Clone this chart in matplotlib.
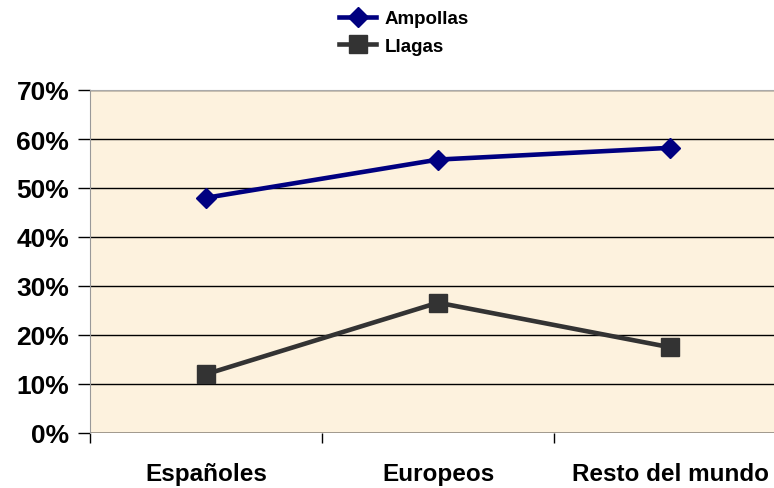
import numpy as np
import matplotlib
matplotlib.use("Agg")
import matplotlib.pyplot as plt
from matplotlib.lines import Line2D

plt.rcParams["font.family"] = ["Liberation Sans", "DejaVu Sans"]

categories = ["Españoles", "Europeos", "Resto del mundo"]
ampollas = [0.48, 0.558, 0.582]
llagas = [0.12, 0.266, 0.175]
yticks = [0, 0.1, 0.2, 0.3, 0.4, 0.5, 0.6, 0.7]

W, H = 774, 489
fig = plt.figure(figsize=(W / 100, H / 100), dpi=100)
fig.patch.set_facecolor("white")
# plot area runs past the right edge of the figure
ax = fig.add_axes([90 / W, (H - 434) / H, 696 / W, 343 / H])
ax.set_facecolor("#fdf2de")

x = np.arange(len(categories))
ax.plot(x, ampollas, color="#000080", lw=3.3, marker="D", ms=10, zorder=3)
ax.plot(x, llagas, color="#333333", lw=3.3, marker="s", ms=13, zorder=3)

ax.set_xlim(-0.5, len(categories) - 0.5)
ax.set_ylim(0, 0.7)
ax.set_yticks(yticks)
ax.set_yticklabels([f"{int(round(v * 100))}%" for v in yticks],
                   fontsize=19, fontweight="bold")
ax.yaxis.grid(True, color="black", lw=1)
ax.set_axisbelow(True)

ax.set_xticks(x)
ax.set_xticklabels(categories, fontsize=17.5, fontweight="bold")
ax.set_xticks(np.arange(len(categories)) - 0.5, minor=True)
ax.tick_params(axis="x", which="major", length=0, pad=21)
ax.tick_params(axis="x", which="minor", length=7, width=1, direction="out")
ax.tick_params(axis="y", length=9, width=1, direction="out", pad=6)

for side in ["right", "bottom"]:
    ax.spines[side].set_visible(False)
ax.spines["left"].set_color("#999999")
ax.spines["top"].set_color("#aaaaaa")
ax.axhline(0, color="black", lw=1, zorder=2)

handles = [
    Line2D([], [], color="#000080", lw=3.3, marker="D", ms=10, label="Ampollas"),
    Line2D([], [], color="#333333", lw=3.3, marker="s", ms=13, label="Llagas"),
]
fig.legend(handles=handles, loc="upper left", bbox_to_anchor=(322 / W, 1.012),
           frameon=False, prop={"weight": "bold", "size": 13.5},
           handlelength=2.0, labelspacing=0.55, handletextpad=0.45)

fig.savefig("out.png", dpi=100)
